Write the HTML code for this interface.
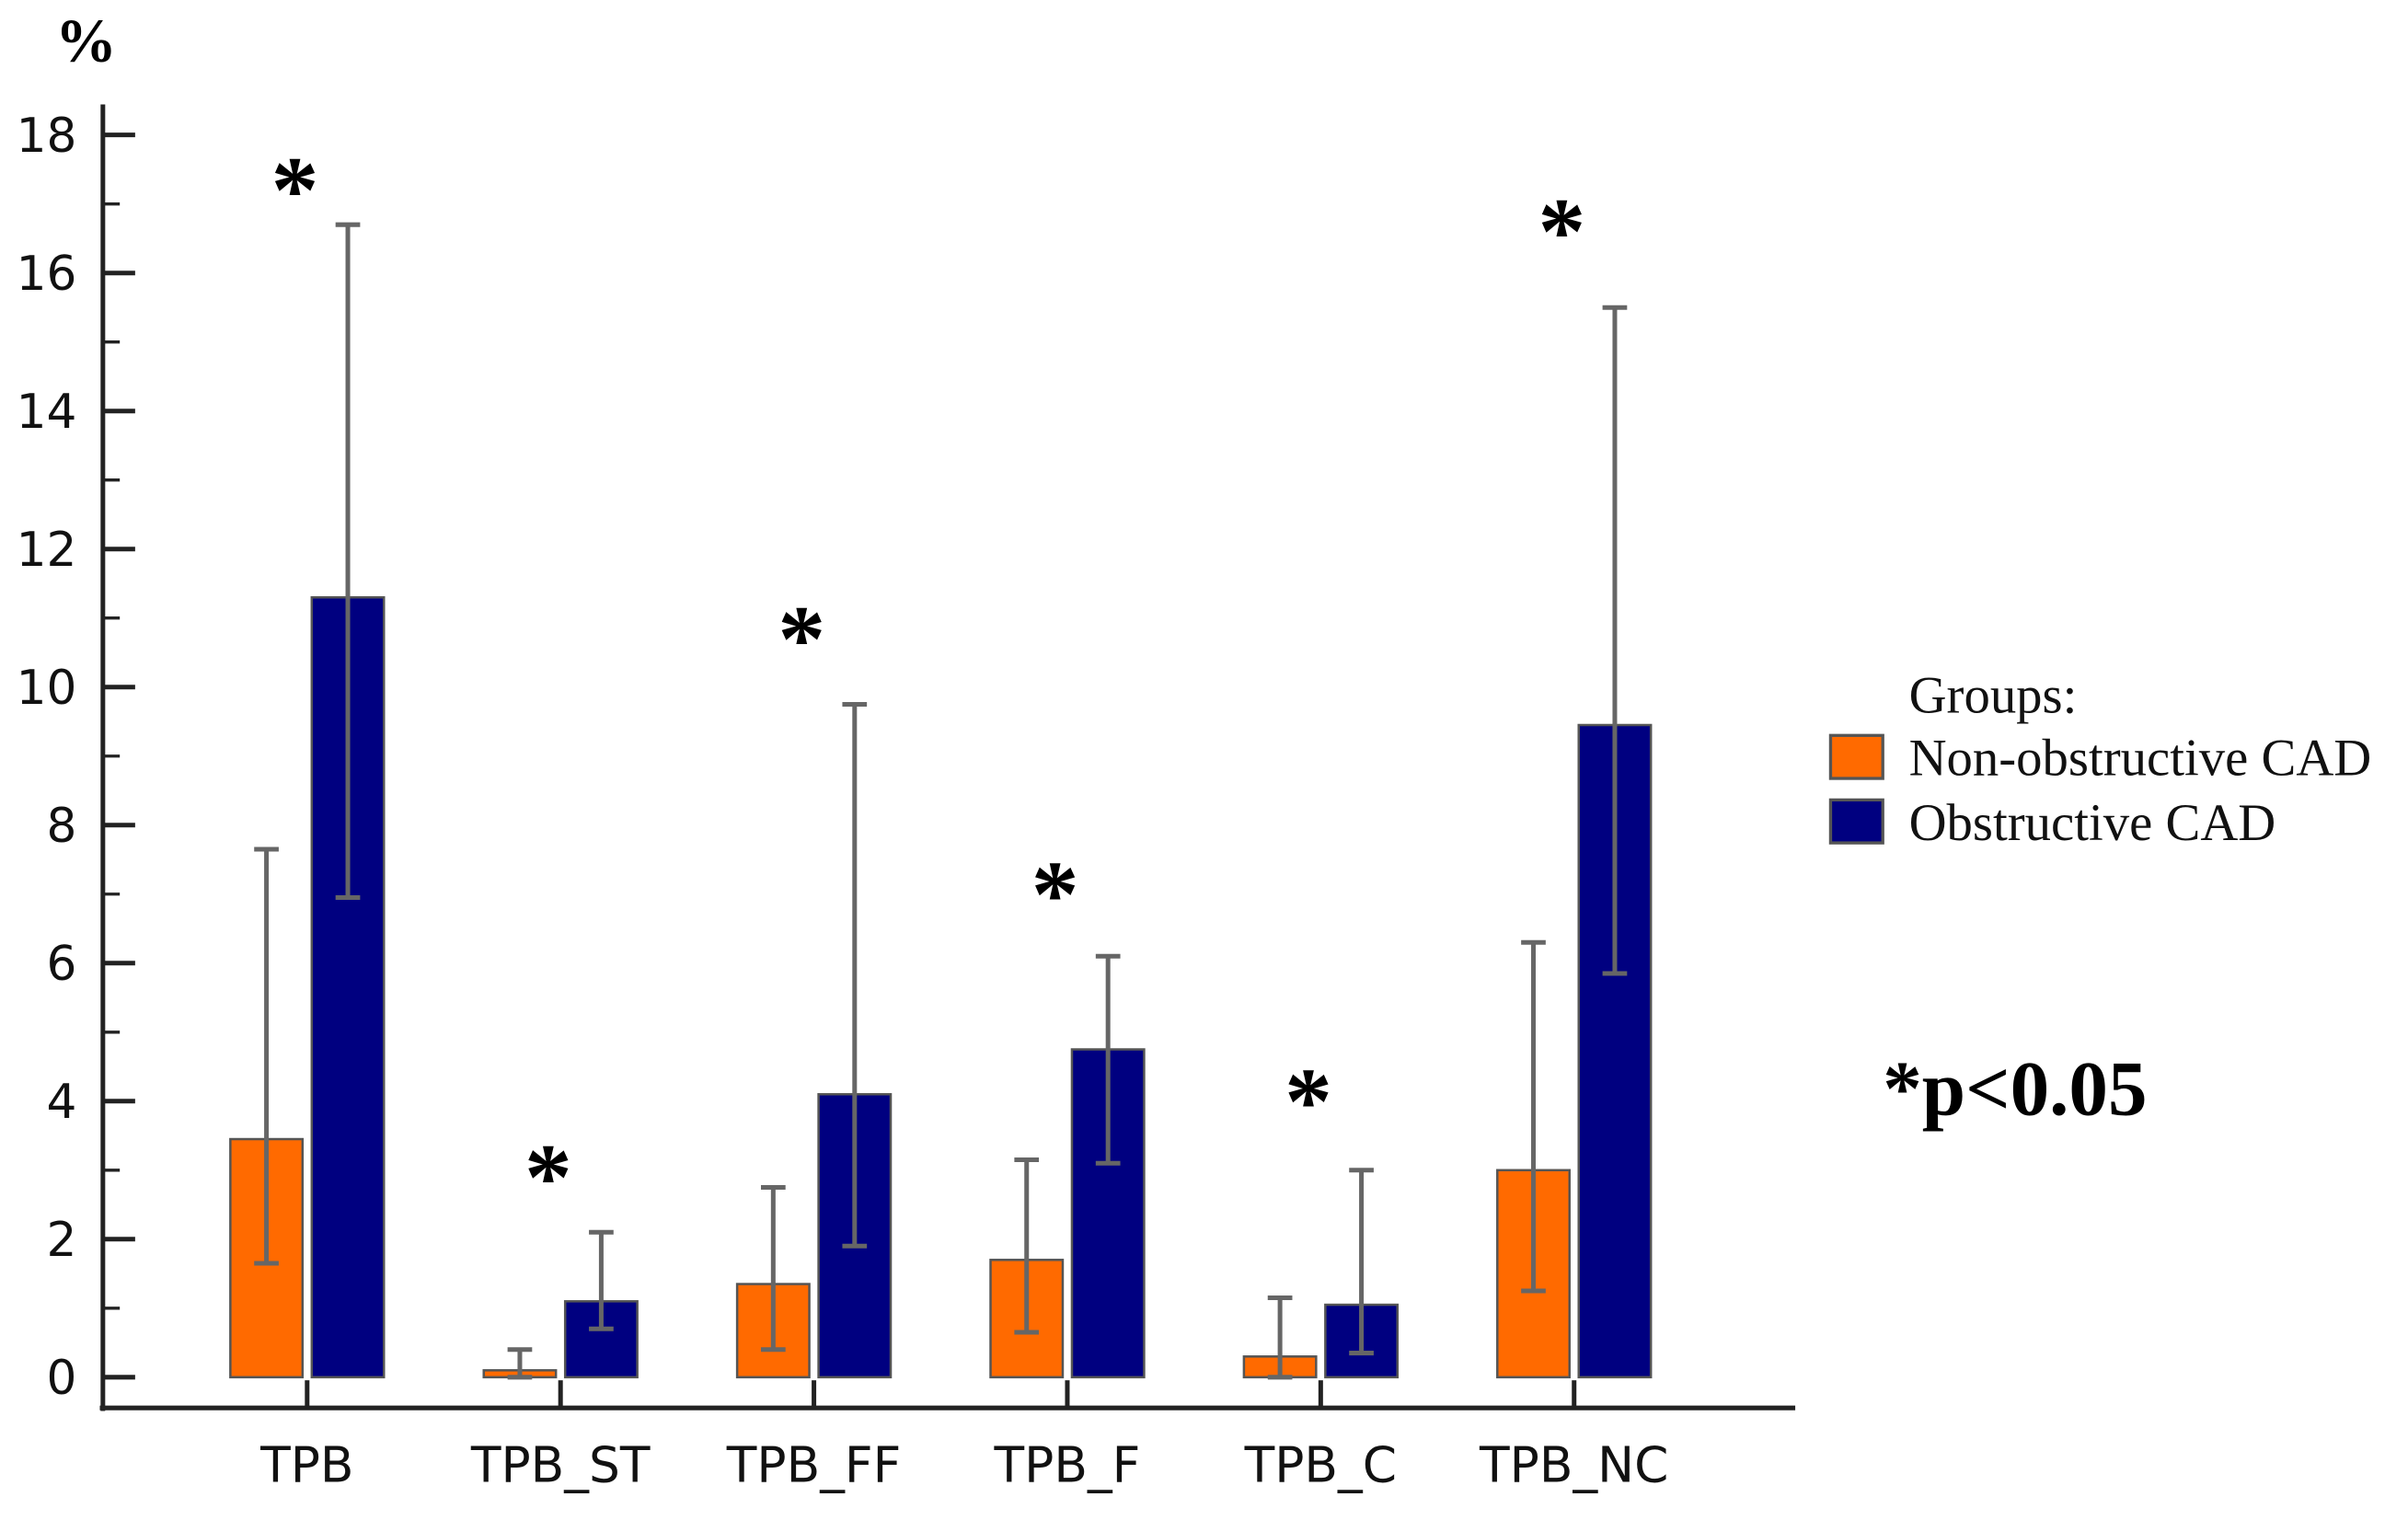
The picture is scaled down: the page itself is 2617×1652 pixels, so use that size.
<!DOCTYPE html>
<html><head><meta charset="utf-8"><style>
html,body{margin:0;padding:0;background:#fff;}
svg{display:block;}
</style></head><body>
<svg id="chart" width="2617" height="1652" viewBox="0 0 1568 990" preserveAspectRatio="none" xmlns="http://www.w3.org/2000/svg">
<g id="axes"></g>
<g id="bars"></g>
<text x="36" y="40" font-family="Liberation Serif, serif" font-weight="bold" font-size="40">%</text>
<g>
<text x="1243" y="464" font-family="Liberation Serif, serif" font-size="34" fill="#111">Groups:</text>
<rect x="1192" y="479" width="34" height="28" fill="#ff6a00" stroke="#555" stroke-width="2"/>
<text x="1243" y="505" font-family="Liberation Serif, serif" font-size="34" fill="#111">Non-obstructive CAD</text>
<rect x="1192" y="521" width="34" height="28" fill="#000080" stroke="#555" stroke-width="2"/>
<text x="1243" y="547" font-family="Liberation Serif, serif" font-size="34" fill="#111">Obstructive CAD</text>
</g>
<text x="1226" y="726" font-family="Liberation Serif, serif" font-weight="bold" font-size="51" fill="#000">*p&lt;0.05</text>
<script>
const categories = ["TPB","TPB_ST","TPB_FF","TPB_F","TPB_C","TPB_NC"];
const nonObstructive = [3.45,0.1,1.35,1.7,0.3,3.0];
const nonObstructiveLow = [1.65,0.0,0.4,0.65,0.0,1.25];
const nonObstructiveHigh = [7.65,0.4,2.75,3.15,1.15,6.3];
const obstructive = [11.3,1.1,4.1,4.75,1.05,9.45];
const obstructiveLow = [6.95,0.7,1.9,3.1,0.35,5.85];
const obstructiveHigh = [16.7,2.1,9.75,6.1,3.0,15.5];
const starValues = [17.4,3.1,10.9,7.2,4.2,16.8];
const yTicks = [0,2,4,6,8,10,12,14,16,18];

const NS="http://www.w3.org/2000/svg";
const y0=897, yPer=44.95;
function y(v){return y0 - v*yPer;}
function cx(i){return 200 + i*165;}
function mk(tag,attrs,parent){const e=document.createElementNS(NS,tag);for(const k in attrs)e.setAttribute(k,attrs[k]);parent.appendChild(e);return e;}
const axes=document.getElementById('axes'), bars=document.getElementById('bars');
let e;
e=mk('line',{x1:67,y1:68,x2:67,y2:919,stroke:'#222','stroke-width':3},axes);


e=mk('line',{x1:65,y1:917,x2:1169,y2:917,stroke:'#222','stroke-width':3},axes);


yTicks.forEach(t=>{
  const l=mk('line',{x1:67,y1:y(t),x2:88,y2:y(t),stroke:'#222','stroke-width':3},axes);
  
  
  if(t<18){const m=mk('line',{x1:67,y1:y(t+1),x2:78,y2:y(t+1),stroke:'#222','stroke-width':2},axes);
  
  }
  const tx=mk('text',{x:50,y:y(t)+11,'text-anchor':'end','font-family':'DejaVu Sans, sans-serif','font-size':31,fill:'#111'},axes);
  tx.textContent=t;
  
  
});
categories.forEach((c,i)=>{
  const x=cx(i);
  const tk=mk('line',{x1:x,y1:899,x2:x,y2:917,stroke:'#222','stroke-width':3},axes);
  
  
  const lb=mk('text',{x:x,y:965,'text-anchor':'middle','font-family':'DejaVu Sans, sans-serif','font-size':32,fill:'#111'},axes);
  lb.textContent=c;
  
  
  const groups=[[nonObstructive,nonObstructiveLow,nonObstructiveHigh,'#ff6a00',x-50,'non-obstructive'],[obstructive,obstructiveLow,obstructiveHigh,'#000080',x+3,'obstructive']];
  groups.forEach(g=>{
    const v=g[0][i];
    const r=mk('rect',{x:g[4],y:y(v),width:47,height:y0-y(v),fill:g[3],stroke:'#555','stroke-width':1.5},bars);
    
    
    const ex=g[4]+23.5;
    const el=mk('path',{d:`M${ex},${y(g[1][i])}V${y(g[2][i])}M${ex-8},${y(g[1][i])}H${ex+8}M${ex-8},${y(g[2][i])}H${ex+8}`,stroke:'#666','stroke-width':3,fill:'none'},bars);
    
    
  });
  const s=mk('text',{x:x-8,y:y(starValues[i])+30,'text-anchor':'middle','font-family':'Liberation Serif, serif','font-weight':'bold','font-size':62,fill:'#000'},bars);
  s.textContent='*';
  
  
});
</script>
</svg>
</body></html>
